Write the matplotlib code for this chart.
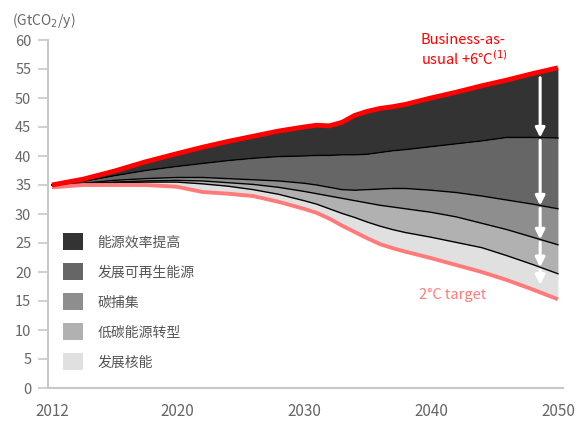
import numpy as np
import matplotlib
matplotlib.use("Agg")
import matplotlib.pyplot as plt
from matplotlib.patches import Patch

plt.rcParams['font.family'] = ['Noto Sans CJK SC', 'DejaVu Sans']

# data (GtCO2 per year)
years = [2012, 2014, 2016, 2018, 2020, 2022, 2024, 2026, 2028, 2030, 2031, 2032,
         2033, 2034, 2035, 2036, 2037, 2038, 2040, 2042, 2044, 2046, 2048, 2050]
bau = [35.0, 36.0, 37.4, 39.0, 40.4, 41.5, 42.5, 43.4, 44.3, 45.0, 45.3, 45.2,
       45.8, 47.0, 47.7, 48.2, 48.5, 48.9, 50.0, 51.0, 52.1, 53.1, 54.2, 55.2]
b1 = [35.0, 35.6, 36.6, 37.5, 38.2, 38.7, 39.2, 39.6, 39.9, 40.0, 40.1, 40.1,
      40.2, 40.2, 40.3, 40.6, 40.9, 41.1, 41.6, 42.1, 42.6, 43.2, 43.2, 43.1]
b2 = [35.0, 35.3, 35.8, 36.1, 36.3, 36.3, 36.1, 35.9, 35.7, 35.3, 35.0, 34.6,
      34.2, 34.1, 34.2, 34.3, 34.4, 34.4, 34.1, 33.7, 33.1, 32.4, 31.7, 30.9]
b3 = [35.0, 35.2, 35.5, 35.7, 35.8, 35.7, 35.4, 35.1, 34.6, 33.9, 33.5, 33.1,
      32.7, 32.3, 31.9, 31.5, 31.2, 30.9, 30.3, 29.5, 28.4, 27.3, 26.0, 24.7]
b4 = [35.0, 35.2, 35.4, 35.5, 35.5, 35.2, 34.8, 34.2, 33.4, 32.3, 31.7, 30.9,
      30.1, 29.4, 28.6, 27.9, 27.3, 26.8, 26.0, 25.1, 24.2, 22.8, 21.3, 19.7]
target = [34.6, 35.0, 35.0, 35.0, 34.7, 33.8, 33.5, 33.1, 32.1, 30.9, 30.2, 29.2,
          28.0, 26.9, 25.8, 24.8, 24.1, 23.5, 22.4, 21.2, 20.0, 18.6, 17.0, 15.3]

labels = ['能源效率提高', '发展可再生能源', '碳捕集', '低碳能源转型', '发展核能']
colors = ['#333333', '#666666', '#8e8e8e', '#b1b1b1', '#e0e0e0']
xticks = [2012, 2020, 2030, 2040, 2050]

# the x axis of the original is stretched a bit between 2012 and 2020
knot_yr = [2000, 2012, 2020, 2060]
knot_px = [-135.2, 52, 177, 685]
fwd = lambda x: np.interp(x, knot_yr, knot_px)
inv = lambda p: np.interp(p, knot_px, knot_yr)

fig = plt.figure(figsize=(5.8, 4.24), dpi=100)
ax = fig.add_axes([48/580, 36/424, 515/580, 348/424])
ax.set_xscale('function', functions=(fwd, inv))

bounds = [bau, b1, b2, b3, b4, target]
for i in range(5):
    ax.fill_between(years, bounds[i+1], bounds[i], color=colors[i], lw=0)
for b in [b1, b2, b3, b4]:
    ax.plot(years, b, color='black', lw=1)
ax.plot(years, target, color='#ff7b7b', lw=2.8, solid_capstyle='butt')
ax.plot(years, bau, color='#ff0000', lw=3.5, solid_capstyle='butt')

# white arrows
ax_year = 2048.6
vals = [np.interp(ax_year, years, b) for b in bounds]
for i in range(5):
    top = vals[i] - (1.0 if i == 0 else 0.5)
    bot = vals[i+1] + (0.0 if i < 4 else 1.3)
    ax.annotate('', xy=(ax_year, bot), xytext=(ax_year, top),
                arrowprops=dict(arrowstyle='-|>', color='white', lw=2.2,
                                mutation_scale=14, shrinkA=0, shrinkB=0))

ax.text(2039.2, 58.2, 'Business-as-\nusual +6°C$^{(1)}$', color='#ff0000',
        fontsize=10.5, ha='left', va='center', linespacing=1.1)
ax.text(2039.1, 16.0, '2°C target', color='#ff7b7b', fontsize=10.5, ha='left', va='center')

ax.set_xlim(2011.75, 2050.4)
ax.set_ylim(0, 60)
ax.set_yticks(range(0, 61, 5))
ax.set_xticks(xticks)
ax.set_xticklabels([str(x) for x in xticks])
ax.tick_params(axis='y', length=7, width=1.2, color='#c8c8c8', pad=5,
               labelcolor='#666666', labelsize=10.5)
ax.tick_params(axis='x', length=0, pad=11, labelcolor='#666666', labelsize=11)
for s in ['top', 'right']:
    ax.spines[s].set_visible(False)
ax.spines['left'].set_color('#c8c8c8')
ax.spines['left'].set_linewidth(1.5)
ax.spines['bottom'].set_color('#c8c8c8')
ax.spines['bottom'].set_linewidth(1.5)

fig.text(12/580, 1 - 20/424, '(GtCO$_2$/y)', color='#666666', fontsize=10,
         ha='left', va='center')

handles = [Patch(facecolor=c, edgecolor='none') for c in colors]
leg = ax.legend(handles, labels, loc='upper left', bbox_to_anchor=(0.004, 0.48),
                frameon=False, fontsize=10, handlelength=1.5, handleheight=1.5,
                labelspacing=0.94, handletextpad=1.0)
for t in leg.get_texts():
    t.set_color('#555555')

fig.savefig('out.png', dpi=100)
